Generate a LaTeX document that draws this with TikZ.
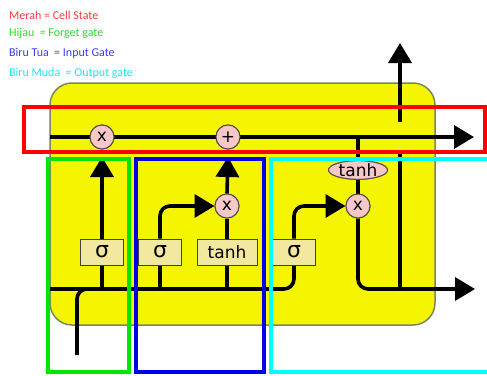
\documentclass[tikz,border=0pt]{standalone}
\usepackage{fontspec}
\setmainfont{Carlito}
\newfontfamily\dv{DejaVu Sans}
\usetikzlibrary{arrows.meta,shapes.geometric}
\definecolor{yel}{RGB}{245,245,0}
\definecolor{yelborder}{RGB}{120,135,100}
\definecolor{pinkc}{RGB}{248,200,200}
\definecolor{boxc}{RGB}{242,232,160}
\definecolor{lred}{RGB}{255,60,60}
\definecolor{lgreen}{RGB}{50,215,50}
\definecolor{lblue}{RGB}{60,60,235}
\definecolor{lcyan}{RGB}{30,230,240}
\definecolor{rred}{RGB}{255,0,0}
\definecolor{rgreen}{RGB}{0,230,0}
\definecolor{rblue}{RGB}{0,0,230}
\definecolor{rcyan}{RGB}{0,255,255}
\begin{document}
\begin{tikzpicture}[x=1pt,y=-1pt,
  wire/.style={line width=3.6pt, black},
  arr/.style={-{Triangle[length=20pt,width=23pt]}},
  pw/.style={circle, draw=black!70, line width=1pt, fill=pinkc, minimum size=24pt, inner sep=0pt, font=\dv\fontsize{17}{17}\selectfont},
  gatebox/.style={rectangle, draw=black!75, line width=1pt, fill=boxc, minimum height=26pt, inner sep=0pt},
  sig/.style={gatebox, minimum width=43pt, font=\dv\fontsize{22}{22}\selectfont},
  th/.style={gatebox, minimum width=60pt, font=\dv\fontsize{17}{17}\selectfont},
  legend/.style={anchor=west, inner sep=0pt, font=\fontsize{12}{12}\selectfont},
  region/.style={line width=4pt}
]
\useasboundingbox (0,0) rectangle (487,375);
\fill[white] (0,0) rectangle (487,375);

% legend
\node[legend, text=lred]   (l1) at (9,15) {Merah = Cell State};
\node[legend, text=lgreen] (l2) at (9,33) {Hijau\ \ = Forget gate};
\node[legend, text=lblue]  (l3) at (9,53) {Biru Tua\ \ = Input Gate};
\node[legend, text=lcyan]  (l4) at (9,73) {Biru Muda\ \ = Output gate};

% cell body
\draw[fill=yel, draw=yelborder, line width=1.5pt, rounded corners=22pt] (50,83) rectangle (435,325);

% coordinates
\coordinate (cin) at (50,137);
\coordinate (cout) at (474,137);
\coordinate (tap) at (358,137);
\coordinate (bin) at (50,289);
\coordinate (xin) at (77,355);
\coordinate (xj) at (110,289);
\coordinate (hup) at (400,122);
\coordinate (htop) at (400,43);
\coordinate (hlow) at (400,150);
\coordinate (hj) at (400,289);
\coordinate (hout) at (475,289);
\coordinate (fa) at (102,157);
\coordinate (ia) at (228,157);

% nodes
\node[pw] (fx) at (102,137) {x};
\node[pw] (pl) at (228,137) {+};
\node[pw] (ix) at (227,206) {x};
\node[pw] (ox) at (358,206) {x};
\node[sig] (fs) at (102,252) {σ};
\node[sig] (is) at (160,252) {σ};
\node[th]  (it) at (227,252) {tanh};
\node[sig] (os) at (294,252) {σ};
\node[ellipse, draw=black!70, line width=1pt, fill=pinkc, minimum width=59pt, minimum height=18pt, inner sep=0pt, font=\dv\fontsize{17}{17}\selectfont] (ot) at (358,170) {tanh};

% wires
\begin{scope}[on background layer/.style={}]
\end{scope}
\draw[wire, arr] (cin) -- (cout);
\draw[wire, rounded corners=10pt] (bin) -| (os.south);
\draw[wire, rounded corners=10pt] (xin) |- (xj);
\draw[wire] (fs.south) -- (fs.south |- bin);
\draw[wire] (is.south) -- (is.south |- bin);
\draw[wire] (it.south) -- (it.south |- bin);
\draw[wire, arr] (fs.north) -- (fa);
\draw[wire, arr, rounded corners=10pt] (is.north) |- (ix.west);
\draw[wire] (it.north) -- (ix.south);
\draw[wire, arr] (ix.north) -- (ia);
\draw[wire, arr, rounded corners=10pt] (os.north) |- (ox.west);
\draw[wire] (tap) -- (ot.north);
\draw[wire] (ot.south) -- (ox.north);
\draw[wire, arr, rounded corners=10pt] (ox.south) |- (hout);
\draw[wire] (hlow) -- (hj);
\draw[wire, arr] (hup) -- (htop);

% redraw nodes on top of wires
\node[pw] at (fx) {x};
\node[pw] at (pl) {+};
\node[pw] at (ix) {x};
\node[pw] at (ox) {x};
\node[sig] at (fs) {σ};
\node[sig] at (is) {σ};
\node[th]  at (it) {tanh};
\node[sig] at (os) {σ};
\node[ellipse, draw=black!70, line width=1pt, fill=pinkc, minimum width=59pt, minimum height=18pt, inner sep=0pt, font=\dv\fontsize{17}{17}\selectfont] at (ot) {tanh};

% coloured regions
\draw[region, rred] (24,107) rectangle (485,152);
\draw[region, rgreen] (48,159) rectangle (129,372);
\draw[region, rblue] (136,159) rectangle (264,372);
\draw[region, rcyan] (271,159) rectangle (495,372);
\end{tikzpicture}
\end{document}
